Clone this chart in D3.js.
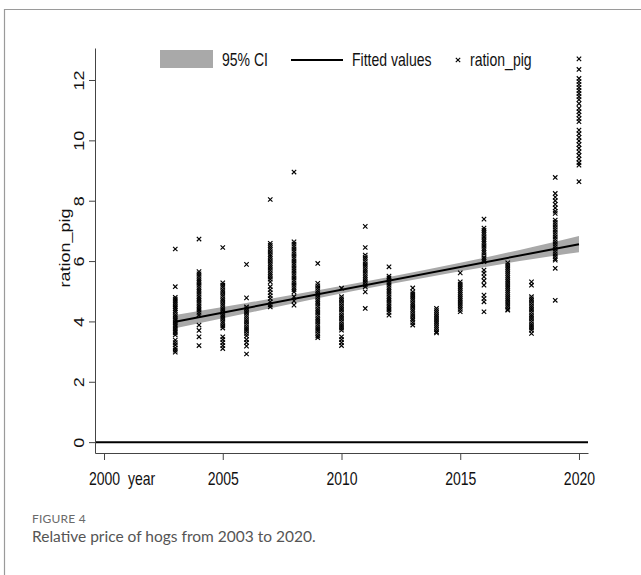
<!DOCTYPE html>
<html><head><meta charset="utf-8">
<script src="https://cdn.jsdelivr.net/npm/d3@7"></script>
<style>
html,body{margin:0;padding:0;background:#fff;}
svg{display:block;}
</style></head>
<body>
<script>
// ---- data ----
const years = [2003,2004,2005,2006,2007,2008,2009,2010,2011,2012,2013,2014,2015,2016,2017,2018,2019,2020];
const v2003 = [6.40,5.15,4.80,4.74,4.68,4.62,4.55,4.48,4.42,4.36,4.30,4.22,4.15,4.08,4.02,3.95,3.88,3.82,3.75,3.68,3.62,3.55,3.38,3.30,3.22,3.12,3.05,2.98];
const v2004 = [6.73,5.65,5.58,5.50,5.42,5.35,5.28,5.20,5.12,5.05,4.98,4.90,4.82,4.75,4.68,4.60,4.52,4.45,4.38,4.30,4.22,3.88,3.70,3.49,3.20];
const v2005 = [6.45,5.28,5.20,5.13,5.05,4.98,4.90,4.83,4.75,4.68,4.60,4.53,4.45,4.38,4.30,4.22,4.15,4.08,4.00,3.93,3.85,3.78,3.49,3.40,3.30,3.20,3.10];
const v2006 = [5.89,4.78,4.48,4.42,4.35,4.28,4.20,4.13,4.05,3.98,3.90,3.82,3.75,3.68,3.60,3.52,3.40,3.30,3.18,2.92];
const v2007 = [8.04,6.59,6.52,6.45,6.38,6.30,6.22,6.15,6.08,6.00,5.92,5.85,5.78,5.70,5.62,5.55,5.48,5.40,5.31,5.15,5.05,4.95,4.85,4.76,4.65,4.55,4.48];
const v2008 = [8.95,6.64,6.56,6.48,6.40,6.32,6.24,6.16,6.08,6.00,5.92,5.84,5.76,5.68,5.60,5.52,5.44,5.36,5.28,5.20,5.12,5.05,4.98,4.82,4.68,4.54];
const v2009 = [5.92,5.26,5.18,5.10,5.02,4.95,4.88,4.80,4.72,4.65,4.58,4.50,4.42,4.35,4.28,4.20,4.12,4.05,3.98,3.90,3.82,3.75,3.68,3.60,3.52,3.46];
const v2010 = [5.10,4.82,4.75,4.68,4.60,4.52,4.45,4.38,4.30,4.22,4.15,4.08,4.00,3.92,3.85,3.78,3.71,3.49,3.40,3.30,3.20];
const v2011 = [7.15,6.45,6.20,6.13,6.06,5.98,5.90,5.83,5.75,5.68,5.60,5.52,5.45,5.38,5.30,5.22,5.15,4.98,4.43];
const v2012 = [5.81,5.50,5.44,5.36,5.28,5.20,5.12,5.05,4.98,4.90,4.82,4.75,4.68,4.60,4.52,4.45,4.38,4.30,4.21];
const v2013 = [5.11,4.98,4.91,4.84,4.77,4.70,4.62,4.55,4.48,4.40,4.33,4.25,4.18,4.10,4.04,3.96,3.88];
const v2014 = [4.43,4.36,4.29,4.22,4.15,4.08,4.01,3.94,3.87,3.80,3.73,3.66,3.62];
const v2015 = [5.61,5.31,5.24,5.17,5.10,5.03,4.96,4.89,4.82,4.75,4.68,4.61,4.54,4.47,4.40,4.32];
const v2016 = [7.39,7.09,7.02,6.95,6.88,6.80,6.72,6.65,6.58,6.50,6.42,6.35,6.28,6.20,6.12,6.05,5.98,5.70,5.60,5.48,5.35,5.20,4.87,4.76,4.65,4.32];
const v2017 = [5.94,5.87,5.80,5.73,5.66,5.59,5.52,5.45,5.38,5.31,5.24,5.17,5.10,5.03,4.96,4.89,4.82,4.75,4.68,4.61,4.54,4.47,4.40,4.37];
const v2018 = [5.31,5.20,4.82,4.75,4.68,4.60,4.52,4.45,4.38,4.30,4.22,4.15,4.08,4.00,3.92,3.85,3.78,3.71,3.60];
const v2019 = [8.77,8.24,8.12,8.00,7.88,7.76,7.65,7.58,7.36,7.28,7.20,7.12,7.04,6.96,6.88,6.80,6.72,6.64,6.56,6.48,6.40,6.32,6.24,6.16,6.08,6.03,5.76,4.70];
const v2020 = [12.70,12.35,12.05,11.95,11.85,11.75,11.65,11.55,11.45,11.35,11.22,11.06,10.95,10.84,10.72,10.62,10.34,10.22,10.10,9.98,9.86,9.74,9.62,9.50,9.38,9.26,9.18,8.63];
const seriesByYear = [v2003,v2004,v2005,v2006,v2007,v2008,v2009,v2010,v2011,v2012,v2013,v2014,v2015,v2016,v2017,v2018,v2019,v2020];

const fitYears = [2003, 2020];
const fitValues = [3.99, 6.56];
const ciYears = [2003, 2006, 2009, 2012, 2015, 2018, 2020];
const ciLower = [3.77, 4.27, 4.77, 5.23, 5.66, 6.06, 6.29];
const ciUpper = [4.21, 4.61, 5.03, 5.47, 5.94, 6.46, 6.83];

const yTicks = [0,2,4,6,8,10,12];
const xTicks = [2000,2005,2010,2015,2020];
const legendLabels = ["95% CI","Fitted values","ration_pig"];
const yTitle = "ration_pig";
const xTitle = "year";
const figLabel = "FIGURE 4";
const caption = "Relative price of hogs from 2003 to 2020.";

// ---- drawing ----
const W = 641, H = 575;
const SX = 0.78;           // horizontal condensation of chart text
const FONT = "'Liberation Sans', Arial, sans-serif";
const svg = d3.select("body").append("svg").attr("width", W).attr("height", H);
svg.append("rect").attr("width", W).attr("height", H).attr("fill", "#fff");

// frame
svg.append("path").attr("d", "M4.5,575 L4.5,9.5 L641,9.5").attr("fill","none").attr("stroke","#9a9a9a").attr("stroke-width",1.2);

const x = d3.scaleLinear().domain([1999.62, 2020.38]).range([95, 588]);
const y = d3.scaleLinear().domain([-0.36, 13.06]).range([453, 48]);

// CI band
const ciData = ciYears.map((yr,i)=>({yr, lo: ciLower[i], hi: ciUpper[i]}));
svg.append("path").datum(ciData)
  .attr("d", d3.area().curve(d3.curveMonotoneX).x(d=>x(d.yr)).y0(d=>y(d.lo)).y1(d=>y(d.hi)))
  .attr("fill", "#a9a9a9");

// fitted line
svg.append("path").datum(fitYears.map((yr,i)=>({yr, v: fitValues[i]})))
  .attr("d", d3.line().x(d=>x(d.yr)).y(d=>y(d.v)))
  .attr("stroke", "#000").attr("stroke-width", 2).attr("fill","none");

// zero line
svg.append("line").attr("x1", x.range()[0]).attr("x2", x.range()[1])
  .attr("y1", y(0)).attr("y2", y(0)).attr("stroke","#000").attr("stroke-width",2);

// points
const pts = [];
years.forEach((yr,i)=>seriesByYear[i].forEach(v=>pts.push({yr, v})));
const mk = "M-2.2,-2.2L2.2,2.2M-2.2,2.2L2.2,-2.2";
svg.append("g").selectAll("path").data(pts).join("path")
  .attr("d", mk)
  .attr("transform", d=>`translate(${x(d.yr)},${y(d.v)})`)
  .attr("stroke", "#000").attr("stroke-width", 1.15).attr("fill","none");

// axes
const yAxis = svg.append("g").attr("transform", `translate(95,0)`)
  .call(d3.axisLeft(y).tickValues(yTicks).tickSize(6).tickSizeOuter(0).tickFormat(d3.format("d")));
yAxis.select(".domain").attr("stroke","#444");
yAxis.selectAll(".tick line").attr("stroke","#444");
yAxis.selectAll(".tick text").remove();
yAxis.selectAll(".tick").append("text")
  .attr("transform", `translate(-11,0) rotate(-90) scale(1,${SX})`)
  .attr("text-anchor","middle")
  .attr("fill","#111").attr("font-family", FONT).attr("font-size", 18)
  .text(d=>d);

const xAxis = svg.append("g").attr("transform", `translate(0,453)`)
  .call(d3.axisBottom(x).tickValues(xTicks).tickSize(7).tickSizeOuter(0).tickFormat(d3.format("d")));
xAxis.select(".domain").attr("stroke","#444");
xAxis.selectAll(".tick line").attr("stroke","#444");
xAxis.selectAll(".tick text").remove();
xAxis.selectAll(".tick").append("text")
  .attr("transform", `translate(0,32) scale(${SX},1)`)
  .attr("text-anchor","middle")
  .attr("fill","#111").attr("font-family", FONT).attr("font-size", 18)
  .text(d=>d);

function ctext(g, str, tx, ty, opts={}) {
  const sc = opts.rot ? `scale(1,${SX})` : `scale(${SX},1)`;
  return g.append("text")
    .attr("transform", `translate(${tx},${ty})` + (opts.rot ? ` rotate(${opts.rot})` : "") + ` ${sc}`)
    .attr("text-anchor", opts.anchor || "start")
    .attr("fill", "#111").attr("font-family", FONT).attr("font-size", opts.size || 18)
    .text(str);
}
// axis titles
ctext(svg, xTitle, 128, 485);
ctext(svg, yTitle, 70, 248, {rot: -90, anchor: "middle"});

// legend
const lg = svg.append("g");
lg.append("rect").attr("x",160).attr("y",50).attr("width",53).attr("height",18).attr("fill","#a9a9a9");
ctext(lg, legendLabels[0], 222, 66);
lg.append("line").attr("x1",291).attr("x2",343).attr("y1",60).attr("y2",60).attr("stroke","#000").attr("stroke-width",2);
ctext(lg, legendLabels[1], 352, 66);
lg.append("path").attr("d", mk).attr("transform","translate(458,60)").attr("stroke","#000").attr("stroke-width",1.1);
ctext(lg, legendLabels[2], 470, 66);

// caption
svg.append("text").attr("x", 32).attr("y", 523)
  .attr("font-family","Lato, 'Open Sans', sans-serif").attr("font-size", 12).attr("fill","#6a6a6a")
  .attr("letter-spacing", 0.2).text(figLabel);
svg.append("text").attr("x", 32).attr("y", 542)
  .attr("font-family","Lato, 'Open Sans', sans-serif").attr("font-size", 15.5).attr("fill","#555")
  .text(caption);
</script>
</body></html>
